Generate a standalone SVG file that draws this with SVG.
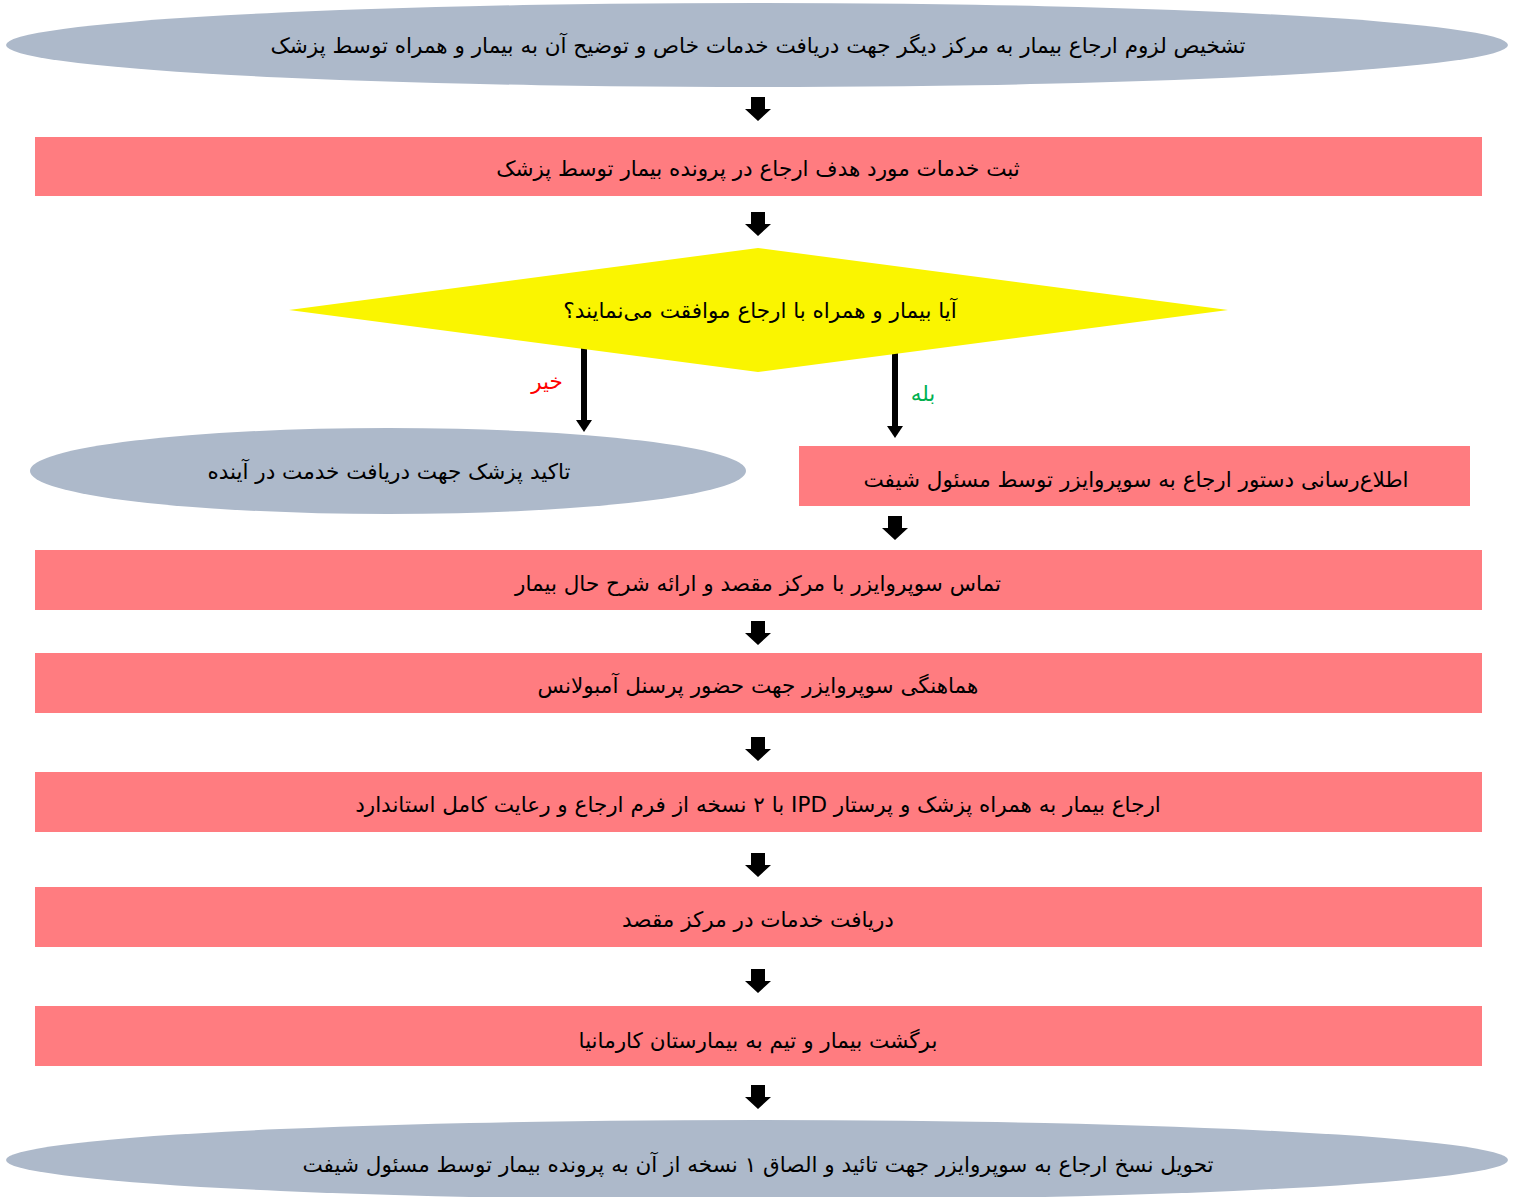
<svg xmlns="http://www.w3.org/2000/svg" width="1517" height="1197" viewBox="0 0 1517 1197">
<style>
.bg{fill:#FFFFFF}
.ell{fill:#ADB9CA}
.box{fill:#FF7C80}
.dia{fill:#FAF500}
.t{font-family:"DejaVu Sans","Noto Sans",sans-serif;font-size:21.5px;fill:#000;text-anchor:middle;direction:rtl}
.no{fill:#FF0000}
.yes{fill:#00B050}
.ln{stroke:#000;stroke-width:6;fill:none}
.hd{fill:#000}
</style>
<defs>
<path id="ba" d="M-7,0 H7 V12 H13 L0,24 L-13,12 H-7 Z" fill="#000"/>
</defs>
<rect class="bg" x="0" y="0" width="1517" height="1197"/>

<g id="connectors">
<use href="#ba" x="758" y="97"/>
<use href="#ba" x="758" y="212"/>
<path class="ln" d="M584,348 V421"/>
<polygon class="hd" points="576,420 592,420 584,432"/>
<path class="ln" d="M895,353 V427"/>
<polygon class="hd" points="887,426 903,426 895,438"/>
<use href="#ba" x="895" y="516"/>
<use href="#ba" x="758" y="621"/>
<use href="#ba" x="758" y="737"/>
<use href="#ba" x="758" y="853"/>
<use href="#ba" x="758" y="969"/>
<use href="#ba" x="758" y="1085"/>
<text class="t no" x="547" y="389" font-size="19">خیر</text>
<text class="t yes" x="923" y="401" font-size="19">بله</text>
</g>

<g id="n1">
<ellipse class="ell" cx="757" cy="45" rx="751" ry="42"/>
<text class="t" x="758" y="53">تشخیص لزوم ارجاع بیمار به مرکز دیگر جهت دریافت خدمات خاص و توضیح آن به بیمار و همراه توسط پزشک</text>
</g>
<g id="n2">
<rect class="box" x="35" y="137" width="1447" height="59"/>
<text class="t" x="758" y="176">ثبت خدمات مورد هدف ارجاع در پرونده بیمار توسط پزشک</text>
</g>
<g id="n3">
<polygon class="dia" points="289,310 758,248 1228,310 758,372"/>
<text class="t" x="760" y="318">آیا بیمار و همراه با ارجاع موافقت می‌نمایند؟</text>
</g>
<g id="n4">
<ellipse class="ell" cx="388" cy="471" rx="358" ry="43"/>
<text class="t" x="389" y="479">تاکید پزشک جهت دریافت خدمت در آینده</text>
</g>
<g id="n5">
<rect class="box" x="799" y="446" width="671" height="60"/>
<text class="t" x="1136" y="487">اطلاع‌رسانی دستور ارجاع به سوپروایزر توسط مسئول شیفت</text>
</g>
<g id="n6">
<rect class="box" x="35" y="550" width="1447" height="60"/>
<text class="t" x="758" y="591">تماس سوپروایزر با مرکز مقصد و ارائه شرح حال بیمار</text>
</g>
<g id="n7">
<rect class="box" x="35" y="653" width="1447" height="60"/>
<text class="t" x="758" y="693">هماهنگی سوپروایزر جهت حضور پرسنل آمبولانس</text>
</g>
<g id="n8">
<rect class="box" x="35" y="772" width="1447" height="60"/>
<text class="t" x="758" y="812">ارجاع بیمار به همراه پزشک و پرستار IPD با ۲ نسخه از فرم ارجاع و رعایت کامل استاندارد</text>
</g>
<g id="n9">
<rect class="box" x="35" y="887" width="1447" height="60"/>
<text class="t" x="758" y="927">دریافت خدمات در مرکز مقصد</text>
</g>
<g id="n10">
<rect class="box" x="35" y="1006" width="1447" height="60"/>
<text class="t" x="758" y="1048">برگشت بیمار و تیم به بیمارستان کارمانیا</text>
</g>
<g id="n11">
<ellipse class="ell" cx="757" cy="1160" rx="751" ry="40"/>
<text class="t" x="758" y="1172">تحویل نسخ ارجاع به سوپروایزر جهت تائید و الصاق ۱ نسخه از آن به پرونده بیمار توسط مسئول شیفت</text>
</g>
</svg>
